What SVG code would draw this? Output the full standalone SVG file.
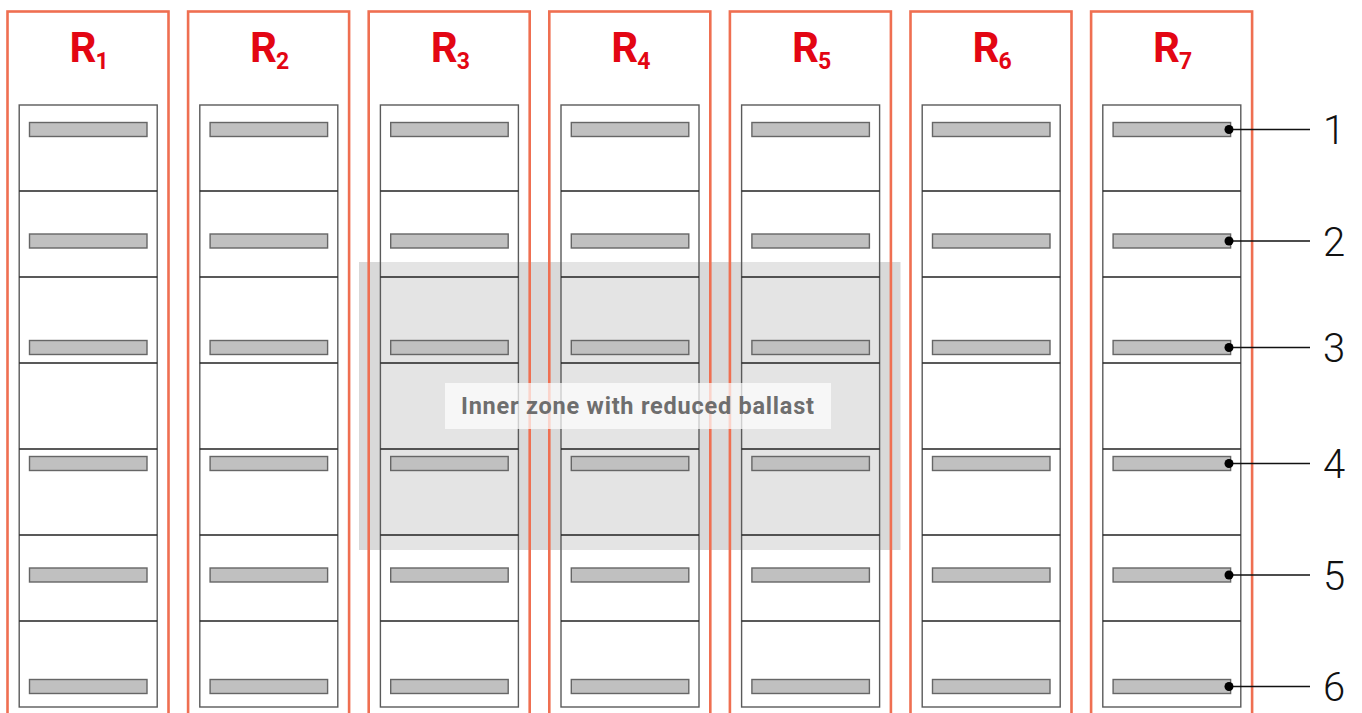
<svg xmlns="http://www.w3.org/2000/svg" width="1362" height="713" viewBox="0 0 1362 713">
<defs>
<style>
.col{fill:none;stroke:#ef6f51;stroke-width:2.6}
.pnl{fill:#ffffff;fill-opacity:0.3;stroke:#5a5a5a;stroke-width:1.4}
.div{stroke:#222;stroke-width:1.5}
.bar{fill:#c0c0c0;stroke:#666;stroke-width:1.4}
.hd{font-family:Roboto,"Liberation Sans",sans-serif;font-weight:700;fill:#e30613}
.num{font-family:Roboto,"Liberation Sans",sans-serif;font-weight:300;font-size:40px;fill:#111;text-anchor:middle}
.ldr{stroke:#111;stroke-width:1.5}
</style>
<g id="panel">
<rect class="col" x="0" y="11.5" width="161" height="720"/>
<rect class="pnl" x="11.7" y="105" width="138" height="602"/>
<line class="div" x1="11.7" y1="191" x2="149.7" y2="191"/>
<line class="div" x1="11.7" y1="277" x2="149.7" y2="277"/>
<line class="div" x1="11.7" y1="363" x2="149.7" y2="363"/>
<line class="div" x1="11.7" y1="449" x2="149.7" y2="449"/>
<line class="div" x1="11.7" y1="535" x2="149.7" y2="535"/>
<line class="div" x1="11.7" y1="621" x2="149.7" y2="621"/>
<rect class="bar" x="22" y="122.5" width="117.5" height="14"/>
<rect class="bar" x="22" y="234" width="117.5" height="14"/>
<rect class="bar" x="22" y="340.5" width="117.5" height="14"/>
<rect class="bar" x="22" y="456.5" width="117.5" height="14"/>
<rect class="bar" x="22" y="568" width="117.5" height="14"/>
<rect class="bar" x="22" y="679.5" width="117.5" height="14"/>
</g>
</defs>
<rect id="zone-bg" x="359" y="262" width="541.5" height="288" fill="#d9d9d9"/>
<g id="R1" transform="translate(7.5,0)"><use href="#panel"/><text class="hd" x="62" y="62" font-size="42">R</text><text class="hd" x="88" y="69" font-size="23">1</text></g>
<g id="R2" transform="translate(188.1,0)"><use href="#panel"/><text class="hd" x="62" y="62" font-size="42">R</text><text class="hd" x="88" y="69" font-size="23">2</text></g>
<g id="R3" transform="translate(368.7,0)"><use href="#panel"/><text class="hd" x="62" y="62" font-size="42">R</text><text class="hd" x="88" y="69" font-size="23">3</text></g>
<g id="R4" transform="translate(549.3,0)"><use href="#panel"/><text class="hd" x="62" y="62" font-size="42">R</text><text class="hd" x="88" y="69" font-size="23">4</text></g>
<g id="R5" transform="translate(729.9,0)"><use href="#panel"/><text class="hd" x="62" y="62" font-size="42">R</text><text class="hd" x="88" y="69" font-size="23">5</text></g>
<g id="R6" transform="translate(910.5,0)"><use href="#panel"/><text class="hd" x="62" y="62" font-size="42">R</text><text class="hd" x="88" y="69" font-size="23">6</text></g>
<g id="R7" transform="translate(1091.1,0)"><use href="#panel"/><text class="hd" x="62" y="62" font-size="42">R</text><text class="hd" x="88" y="69" font-size="23">7</text></g>
<g id="zone-label">
<rect x="445" y="383" width="386" height="46" fill="#ffffff" fill-opacity="0.7"/>
<text x="461" y="413.5" font-family="Roboto,'Liberation Sans',sans-serif" font-weight="700" font-size="23.5" fill="#6e6e6e" textLength="353" lengthAdjust="spacing">Inner zone with reduced ballast</text>
</g>
<g id="connectors">
<line class="ldr" x1="1229" y1="129.5" x2="1310" y2="129.5"/><circle cx="1229" cy="129.5" r="4.5" fill="#000"/>
<line class="ldr" x1="1229" y1="241" x2="1310" y2="241"/><circle cx="1229" cy="241" r="4.5" fill="#000"/>
<line class="ldr" x1="1229" y1="347.5" x2="1310" y2="347.5"/><circle cx="1229" cy="347.5" r="4.5" fill="#000"/>
<line class="ldr" x1="1229" y1="463.5" x2="1310" y2="463.5"/><circle cx="1229" cy="463.5" r="4.5" fill="#000"/>
<line class="ldr" x1="1229" y1="575" x2="1310" y2="575"/><circle cx="1229" cy="575" r="4.5" fill="#000"/>
<line class="ldr" x1="1229" y1="686.5" x2="1310" y2="686.5"/><circle cx="1229" cy="686.5" r="4.5" fill="#000"/>
</g>
<g id="labels">
<text class="num" x="1334" y="144">1</text>
<text class="num" x="1334" y="255.5">2</text>
<text class="num" x="1334" y="362">3</text>
<text class="num" x="1334" y="478">4</text>
<text class="num" x="1334" y="589.5">5</text>
<text class="num" x="1334" y="701">6</text>
</g>
</svg>
